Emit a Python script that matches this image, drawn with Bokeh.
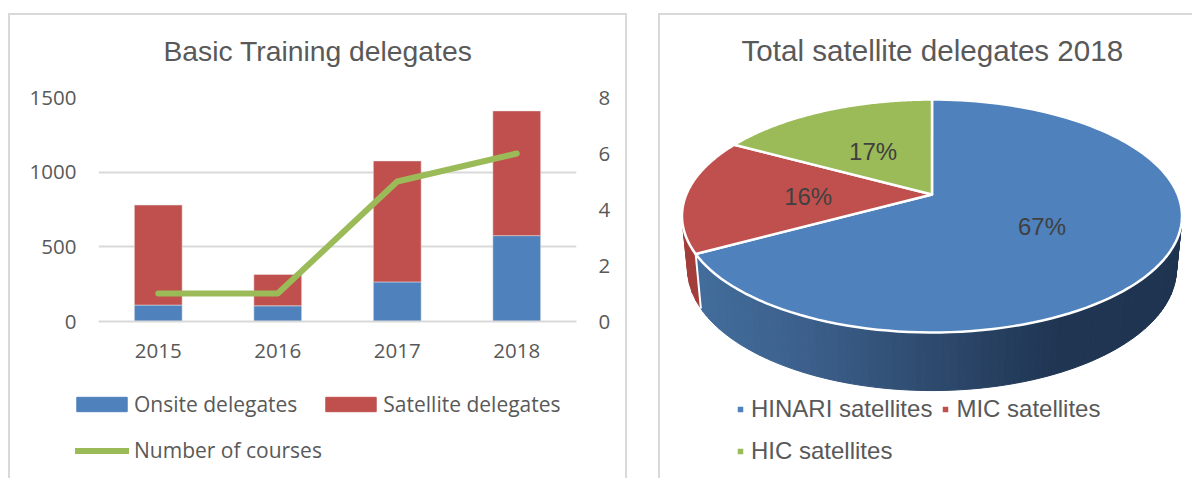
import numpy as np
from bokeh.embed import file_html
from bokeh.resources import INLINE
from bokeh.plotting import figure
from bokeh.models import (FactorRange, Range1d, LinearAxis, FixedTicker, Legend, LegendItem,
                          ColumnDataSource)
from bokeh.core.properties import value

# ---- data ----
years = ["2015", "2016", "2017", "2018"]
onsite = [110, 105, 265, 575]
satellite = [670, 210, 810, 835]
courses = [1, 1, 5, 6]
left_ticks = [0, 500, 1000, 1500]
right_ticks = [0, 2, 4, 6, 8]
series_names = ["Onsite delegates", "Satellite delegates", "Number of courses"]
pie_names = ["HINARI satellites", "MIC satellites", "HIC satellites"]
pie_shares = [67, 16, 17]
pie_colors = ["#4f81bd", "#c0504d", "#9bbb59"]

BLUE, RED, GREEN = pie_colors
GREY = "#d9d9d9"
TXT = "#595959"
LAT = "Open Sans"
ARI = "Liberation Sans"
SHADOW = f"inset 0 2px 0 {GREY}, inset 2px 0 0 {GREY}, inset -2px 0 0 {GREY}"

# ---- left chart ----
p1 = figure(width=619, height=478, x_range=FactorRange(factors=years, range_padding=0),
            y_range=Range1d(0, 1500), output_backend="svg", toolbar_location=None,
            min_border_left=90, min_border_right=51, min_border_top=97, min_border_bottom=157,
            outline_line_color=None, border_fill_color=None, background_fill_color=None,
            styles={"position": "absolute", "left": "8px", "top": "0px"})
p1.extra_y_ranges = {"courses": Range1d(0, 8)}
src = ColumnDataSource(dict(year=years, onsite=onsite, satellite=satellite, courses=courses))
bars = p1.vbar_stack(["onsite", "satellite"], x="year", width=0.4, source=src,
                     color=[BLUE, RED], line_color="#e8e8e8", line_width=0.5)
line = p1.line("year", "courses", source=src, y_range_name="courses", line_color=GREEN,
               line_width=6, line_cap="round", line_join="round")

p1.xgrid.visible = False
p1.ygrid.grid_line_color = GREY
p1.ygrid.grid_line_width = 2
p1.ygrid.ticker = FixedTicker(ticks=left_ticks)
p1.yaxis.ticker = FixedTicker(ticks=left_ticks)
ra = LinearAxis(y_range_name="courses", ticker=FixedTicker(ticks=right_ticks))
p1.add_layout(ra, "right")
for ax in [p1.yaxis[0], ra, p1.xaxis[0]]:
    ax.major_tick_line_color = None
    ax.major_tick_out = 0
    ax.major_tick_in = 0
    ax.minor_tick_line_color = None
    ax.minor_tick_out = 0
    ax.minor_tick_in = 0
    ax.axis_line_color = None
    ax.major_label_text_font = LAT
    ax.major_label_text_font_size = "20.5px"
    ax.major_label_text_color = TXT
    ax.major_label_standoff = 22
p1.xaxis[0].axis_line_color = GREY
p1.xaxis[0].axis_line_width = 2

p1.title.text = "Basic Training delegates"
p1.title.text_font = ARI
p1.title.text_font_size = "28.3px"
p1.title.text_font_style = "normal"
p1.title.text_color = TXT
p1.title.align = "left"
p1.title.offset = 65
p1.title.standoff = 62


def style_legend(lg, font, size, **kw):
    lg.border_line_color = None
    lg.background_fill_alpha = 0
    lg.padding = 0
    lg.margin = 0
    lg.label_text_font = font
    lg.label_text_font_size = size
    lg.label_text_color = TXT
    for k, v in kw.items():
        setattr(lg, k, v)


# panel frame and legends of the left chart: a see-through figure laid over it;
# its key glyphs lie outside its ranges, so only their legend swatches show
p3 = figure(width=619, height=465, x_range=Range1d(0, 1), y_range=Range1d(0, 1),
            output_backend="svg", toolbar_location=None, min_border=0,
            outline_line_color=None, border_fill_color=None, background_fill_color=None,
            styles={"position": "absolute", "left": "8px", "top": "13px", "box-shadow": SHADOW})
p3.axis.visible = False
p3.grid.visible = False
key_onsite = p3.vbar(x=[-9], top=[-9], bottom=[-10], width=0.4, color=BLUE)
key_satellite = p3.vbar(x=[-9], top=[-9], bottom=[-10], width=0.4, color=RED)
key_courses = p3.line(x=[-9, -8], y=[-9, -8], line_color=GREEN, line_width=6, line_cap="round")

lg1 = Legend(items=[LegendItem(label=series_names[0], renderers=[key_onsite]),
                    LegendItem(label=series_names[1], renderers=[key_satellite])],
             orientation="horizontal", location=(62, 60))
style_legend(lg1, LAT, "21px", glyph_width=63, glyph_height=18, label_standoff=1, spacing=22)
lg2 = Legend(items=[LegendItem(label=series_names[2], renderers=[key_courses])],
             location=(67, 14))
style_legend(lg2, LAT, "21px", glyph_width=54, glyph_height=15, label_standoff=5)
p3.add_layout(lg1, "center")
p3.add_layout(lg2, "center")

# ---- right chart: perspective pie; data coordinates are page pixels ----
TOP = 70
p2 = figure(width=534, height=465, x_range=Range1d(658, 1192), y_range=Range1d(478, TOP),
            output_backend="svg", toolbar_location=None, min_border_left=0, min_border_right=0,
            min_border_top=TOP - 13, min_border_bottom=0, outline_line_color=None,
            border_fill_color=None, background_fill_color=None,
            styles={"position": "absolute", "left": "658px", "top": "13px",
                    "box-shadow": f"inset 0 2px 0 {GREY}, inset 2px 0 0 {GREY}"})
p2.axis.visible = False
p2.grid.visible = False

CX, CY = 931.5, 194.0
A, B, K = 245.7, 112.5, 0.1846


def top_face(theta, r=1.0):
    u, v = r * np.sin(theta), r * np.cos(theta)
    d = 1 + K * v
    return CX + A * u / d, CY - B * v / d


def bottom_face(theta):
    x, y = top_face(theta)
    return CX + 0.978 * (x - CX), CY + 51.9 + 1.045 * (y - CY)


fracs = np.cumsum([0] + pie_shares) / sum(pie_shares)
angles = fracs * 2 * np.pi


def lerp(stops, x):
    xs = [s[0] for s in stops]
    return "#%02x%02x%02x" % tuple(int(round(np.interp(x, xs, [s[1][i] for s in stops]))) for i in range(3))


wall_stops = [(700, (66, 108, 155)), (800, (60, 96, 140)), (920, (47, 76, 112)),
              (1060, (31, 53, 82)), (1190, (30, 52, 80))]


def wall(t0, t1, n, color_fn):
    ts = np.linspace(t0, t1, n + 1)
    xs, ys, cols = [], [], []
    for a, b in zip(ts[:-1], ts[1:]):
        xa, ya = top_face(a); xb, yb = top_face(b)
        xc, yc = bottom_face(b); xd, yd = bottom_face(a)
        xs.append([xa, xb, xc, xd]); ys.append([ya, yb, yc, yd])
        cols.append(color_fn((xa + xb) / 2))
    return xs, ys, cols


# walls: red sliver first, then the blue front
xs, ys, cols = wall(angles[1], np.deg2rad(285), 12, lambda x: "#a33e3b")
p2.patches(xs, ys, fill_color=cols, line_color=cols, line_width=1)
xs, ys, cols = wall(np.deg2rad(100), angles[1], 90, lambda x: lerp(wall_stops, x))
p2.patches(xs, ys, fill_color=cols, line_color=cols, line_width=1)
xa, ya = top_face(angles[1]); xb, yb = bottom_face(angles[1])
p2.line([xa, xb], [ya, yb], line_color="white", line_width=2)

# top faces
slices = []
for i, col in enumerate(pie_colors):
    t = np.linspace(angles[i], angles[i + 1], 120)
    x, y = top_face(t)
    slices.append(p2.patch(np.r_[CX, x], np.r_[CY, y], fill_color=col, line_color="white",
                           line_width=2.5, line_join="round"))

# data labels
for i, sh in enumerate(pie_shares):
    x, y = top_face((angles[i] + angles[i + 1]) / 2, 0.5)
    p2.text([x - 1], [y + 2], text=[f"{sh}%"], text_font=value(ARI), text_font_size="24px",
            text_color="#404040", text_align="center", text_baseline="middle")

lg3 = Legend(items=[LegendItem(label=pie_names[0], renderers=[slices[0]]),
                    LegendItem(label=pie_names[1], renderers=[slices[1]])],
             orientation="horizontal", location=(77, 55))
style_legend(lg3, ARI, "24px", glyph_width=10, glyph_height=10, label_standoff=6, spacing=8)
lg4 = Legend(items=[LegendItem(label=pie_names[2], renderers=[slices[2]])], location=(77, 13))
style_legend(lg4, ARI, "24px", glyph_width=10, glyph_height=10, label_standoff=6)
p2.add_layout(lg3, "center")
p2.add_layout(lg4, "center")

p2.title.text = "Total satellite delegates 2018"
p2.title.text_font = ARI
p2.title.text_font_size = "29.6px"
p2.title.text_font_style = "normal"
p2.title.text_color = TXT
p2.title.align = "left"
p2.title.offset = 83
p2.title.standoff = 8

open("out.html", "w").write(file_html([p1, p2, p3], INLINE))
